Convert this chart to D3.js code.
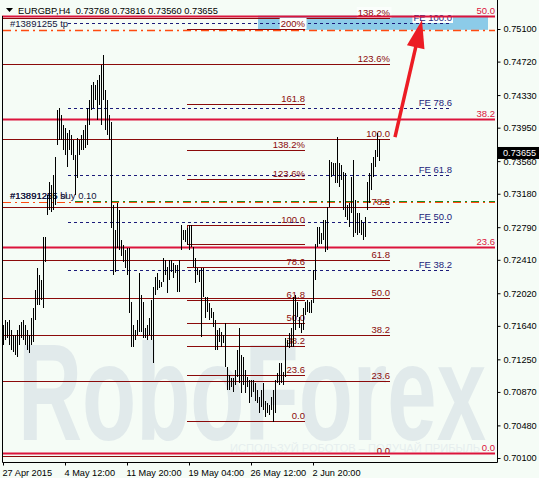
<!DOCTYPE html>
<html>
<head>
<meta charset="utf-8">
<script src="https://cdn.jsdelivr.net/npm/d3@7"></script>
<style>
body { margin: 0; background: #f5fcf6; }
svg text { font-family: "Liberation Sans", Arial, sans-serif; }
</style>
</head>
<body>
<div id="chart"></div>
<script>
// H4 bars, high / low
var barHigh = [
  .7165,.7171,.7168,.7171,.7159,.7153,.7153,.7159,.7165,.7168,.7171,.7165,.7159,.7153,.7173,
  .7185,.7206,.7231,.7223,.7217,.7267,.7267,.7316,.7332,.7328,.7340,.7361,
  .7416,.7418,.7410,.7398,.7395,.7389,.7392,.7386,.7381,.7363,.7383,.7381,.7386,
  .7392,.7398,.7418,.7427,.7445,.7448,.7445,.7451,.7456,.7468,.7480,.7439,.7427,.7410,
  .7402,.7305,.7276,.7307,.7299,.7264,.7258,.7252,.7255,.7255,
  .7192,.7165,.7159,.7171,.7226,.7200,.7192,.7161,.7165,.7173,.7194,.7209,
  .7221,.7226,.7217,.7215,.7243,.7241,.7233,.7241,.7241,.7237,.7235,.7235,.7241,
  .7281,.7276,.7276,.7278,.7281,.7281,.7256,.7243,.7231,.7229,.7231,.7231,
  .7198,.7198,.7191,.7185,.7180,.7171,.7159,.7161,.7157,.7153,.7167,
  .7116,.7107,.7103,.7103,.7112,.7136,.7161,.7130,.7128,.7112,.7104,
  .7101,.7101,.7101,.7097,.7089,.7081,.7089,.7097,.7077,.7074,.7072,.7081,.7089,.7101,
  .7109,.7121,.7121,.7110,.7150,.7147,.7156,.7161,
  .7198,.7200,.7192,.7174,.7167,.7185,.7192,.7194,.7192,.7194,.7229,.7260,
  .7279,.7279,.7272,.7287,.7287,.7302,.7357,.7355,.7354,.7354,.7384,.7354,.7351,
  .7343,.7342,.7305,.7307,.7337,.7357,.7311,.7295,.7295,.7287,.7284,.7291,
  .7332,.7342,.7354,.7361,.7369,.7389,.73816
];
var barLow = [
  .7142,.7147,.7150,.7142,.7136,.7133,.7130,.7128,.7142,.7150,.7147,.7142,.7136,.7132,.7142,
  .7145,.7171,.7188,.7188,.7194,.7185,.7238,.7293,.7299,.7297,.7299,.7305,
  .7375,.7381,.7381,.7369,.7363,.7349,.7369,.7363,.7357,.7316,.7336,.7363,.7369,
  .7369,.7371,.7375,.7398,.7416,.7418,.7427,.7404,.7421,.7398,.7427,.7392,.7386,.7381,
  .7278,.7223,.7227,.7255,.7252,.7246,.7238,.7231,.7223,.7179,
  .7139,.7139,.7147,.7153,.7157,.7157,.7150,.7150,.7147,.7153,.7147,.7121,
  .7200,.7206,.7208,.7209,.7215,.7223,.7202,.7217,.7227,.7220,.7226,.7203,.7203,
  .7252,.7264,.7262,.7258,.7252,.7256,.7233,.7214,.7223,.7215,.7151,.7198,
  .7173,.7180,.7171,.7173,.7163,.7136,.7136,.7145,.7139,.7144,.7116,
  .7089,.7089,.7093,.7087,.7095,.7104,.7097,.7086,.7095,.7086,.7093,
  .7074,.7081,.7087,.7077,.7074,.7062,.7069,.7066,.7058,.7062,.7060,.7066,.7052,.7062,
  .7097,.7095,.7097,.7095,.7104,.7139,.7138,.7139,
  .7139,.7159,.7174,.7161,.7156,.7159,.7177,.7180,.7179,.7179,.7191,.7217,
  .7256,.7260,.7260,.7264,.7250,.7252,.7302,.7337,.7340,.7330,.7330,.7326,.7334,
  .7299,.7291,.7287,.7279,.7295,.7267,.7272,.7270,.7272,.7270,.7264,.7267,
  .7299,.7307,.7322,.7337,.7349,.7361,.73560
];
var lastClose = 0.73655;
var headerText = "EURGBP,H4  0.73768 0.73816 0.73560 0.73655";

var priceTicks = [0.75100,0.74720,0.74330,0.73950,0.73560,0.73180,0.72790,
                  0.72410,0.72020,0.71640,0.71250,0.70870,0.70480,0.70100];
var dateLabels = ["27 Apr 2015","4 May 12:00","11 May 20:00","19 May 04:00","26 May 12:00","2 Jun 20:00"];
var dateIdx = [0, 31, 62, 93, 124, 155];

// big crimson retracement
var crimsonBase = 0.70156, crimsonRange = 0.10202;
var crimsonRatios = [0, 0.236, 0.382, 0.5];
var crimsonLabels = ["0.0", "23.6", "38.2", "50.0"];

// dark red retracement (long)
var fibABase = 0.7012, fibARange = 0.03696;
var fibARatios = [0, 0.236, 0.382, 0.5, 0.618, 0.786, 1, 1.236, 1.382];
var fibALabels = ["0.0","23.6","38.2","50.0","61.8","78.6","100.0","123.6%","138.2%"];

// dark red retracement (short)
var fibBBase = 0.7053, fibBRange = 0.02285;
var fibBRatios = [0, 0.236, 0.382, 0.5, 0.618, 0.786, 1, 1.236, 1.382, 1.618, 2];
var fibBLabels = ["0.0","23.6","38.2","50.0","61.8","78.6","100.0","123.6%","138.2%","161.8","200%"];

// fibo expansion (navy dashed)
var feBase = 0.7052, feRange = 0.0465;
var feRatios = [0.382, 0.5, 0.618, 0.786, 1];
var feLabels = ["FE 38.2","FE 50.0","FE 61.8","FE 78.6","FE 100.0"];

var tpPrice = 0.75090, slPrice = 0.73085;

var W = 539, H = 478;
var svg = d3.select("#chart").append("svg")
    .attr("width", W).attr("height", H)
    .style("background", "#f5fcf6");

var x = d3.scaleLinear().domain([0, 246]).range([3, 495]);
var y = d3.scaleLinear().domain([0.70100, 0.75100]).range([458, 29]);
var px = function (v) { return Math.round(v) + 0.5; };

// watermark
svg.append("text")
    .attr("x", 18).attr("y", 440)
    .attr("font-size", 138).attr("font-weight", "bold")
    .attr("textLength", 468).attr("lengthAdjust", "spacingAndGlyphs")
    .attr("fill", "#e1eaeb")
    .text("RoboForex");
svg.append("text")
    .attr("x", 230).attr("y", 452)
    .attr("font-size", 11)
    .attr("textLength", 250).attr("lengthAdjust", "spacingAndGlyphs")
    .attr("fill", "#e6eeee")
    .text("ИСПОЛЬЗУЙ РОБОТОВ – ПОЛУЧАЙ ПРИБЫЛЬ");

// blue rectangle
svg.append("rect")
    .attr("x", x(127.5)).attr("y", y(0.75255))
    .attr("width", x(242.5) - x(127.5)).attr("height", y(tpPrice) - y(0.75255))
    .attr("fill", "#8ccbe8");

function fibLines(base, range, ratios, labels, i0, i1, color, width, dash, bgLabels) {
    var g = svg.append("g");
    ratios.forEach(function (r, k) {
        var yy = px(y(base + r * range));
        g.append("line")
            .attr("x1", x(i0)).attr("x2", x(i1))
            .attr("y1", yy).attr("y2", yy)
            .attr("stroke", color).attr("stroke-width", width)
            .attr("stroke-dasharray", dash);
        var t = g.append("text")
            .attr("x", x(i1)).attr("y", yy - 2.5)
            .attr("text-anchor", "end")
            .attr("font-size", 9.5)
            .attr("fill", color)
            .text(labels[k]);
        if (bgLabels && bgLabels.indexOf(labels[k]) >= 0) {
            var bb = t.node().getBBox();
            g.insert("rect", function () { return t.node(); })
                .attr("x", bb.x - 1).attr("y", bb.y)
                .attr("width", bb.width + 2).attr("height", bb.height)
                .attr("fill", "#fbfefc");
        }
    });
    return g;
}

// order lines
svg.append("line")
    .attr("x1", 3).attr("x2", 495)
    .attr("y1", px(y(tpPrice))).attr("y2", px(y(tpPrice)))
    .attr("stroke", "#ff4a10").attr("stroke-width", 1.3)
    .attr("stroke-dasharray", "8,4,2,4");
svg.append("line")
    .attr("x1", x(36)).attr("x2", 495)
    .attr("y1", px(y(slPrice)) - 1).attr("y2", px(y(slPrice)) - 1)
    .attr("stroke", "#1e8a1e").attr("stroke-width", 1.2)
    .attr("stroke-dasharray", "8,4,2,4");
svg.append("line")
    .attr("x1", 3).attr("x2", 495)
    .attr("y1", px(y(slPrice))).attr("y2", px(y(slPrice)))
    .attr("stroke", "#ff4a10").attr("stroke-width", 1.2)
    .attr("stroke-dasharray", "8,4,2,4");

fibLines(feBase, feRange, feRatios, feLabels, 32.5, 224.5, "#1b1b7a", 1, "3,3", ["FE 100.0"]);
fibLines(fibABase, fibARange, fibARatios, fibALabels, -0.5, 193.5, "#8b0a0a", 1, null, ["138.2%"]);
fibLines(fibBBase, fibBRange, fibBRatios, fibBLabels, 92, 151, "#8b0a0a", 1, null, ["200%"]);
fibLines(crimsonBase, crimsonRange, crimsonRatios, crimsonLabels, -0.5, 246, "#dc143c", 2, null, []);

// bracket of the short retracement
var bTop = px(y(fibBBase + fibBRange)), bBot = px(y(0.72600));
svg.append("path")
    .attr("d", "M" + x(151) + "," + bBot + "H" + px(x(92)) + "V" + bTop)
    .attr("fill", "none").attr("stroke", "#8b0a0a");

// order labels (two labels drawn on top of each other, as in the terminal)
svg.append("text").attr("x", 10).attr("y", y(tpPrice) - 3)
    .attr("font-size", 9.5).attr("fill", "#14143c").text("#13891255 tp");
svg.append("text").attr("x", 10).attr("y", y(slPrice) - 3)
    .attr("font-size", 9.5).attr("fill", "#14143c").text("#13891255 buy 0.10");
svg.append("text").attr("x", 10).attr("y", y(slPrice) - 3)
    .attr("font-size", 9.5).attr("fill", "#14143c").text("#13891255 sl");

// bars
svg.append("g").selectAll("line")
    .data(barHigh)
    .enter().append("line")
    .attr("x1", function (d, i) { return px(x(i)); })
    .attr("x2", function (d, i) { return px(x(i)); })
    .attr("y1", function (d) { return y(d); })
    .attr("y2", function (d, i) { return y(barLow[i]); })
    .attr("stroke", "#000").attr("stroke-width", 1)
    .attr("shape-rendering", "crispEdges");

// red arrow
var a0 = [x(196), y(0.73841)], a1 = [x(209.5), y(0.75205)];
var dx = a1[0] - a0[0], dy = a1[1] - a0[1], len = Math.sqrt(dx * dx + dy * dy);
var ux = dx / len, uy = dy / len;
var bx = a1[0] - 28 * ux, by = a1[1] - 28 * uy;
svg.append("line")
    .attr("x1", a0[0]).attr("y1", a0[1])
    .attr("x2", a1[0] - 20 * ux).attr("y2", a1[1] - 20 * uy)
    .attr("stroke", "#ec1c24").attr("stroke-width", 3.5);
svg.append("path")
    .attr("d", "M" + a1[0] + "," + a1[1] +
        "L" + (bx - 9 * -uy) + "," + (by - 9 * ux) +
        "L" + (bx + 9 * -uy) + "," + (by + 9 * ux) + "Z")
    .attr("fill", "#ec1c24");

// frame
svg.append("path")
    .attr("d", "M2.5,16V462.5H497.5V0")
    .attr("fill", "none").attr("stroke", "#000");

// right axis
var yAxis = d3.axisRight(y).tickValues(priceTicks)
    .tickFormat(d3.format(".5f")).tickSize(3).tickPadding(3);
var ya = svg.append("g").attr("transform", "translate(497.5,0)").call(yAxis);
ya.select(".domain").remove();
ya.selectAll("text").attr("font-size", 9.2).attr("fill", "#000")
    .attr("font-family", "Liberation Sans, Arial, sans-serif");
ya.selectAll("line").attr("stroke", "#000");

// bottom axis
var xAxis = d3.axisBottom(x).tickValues(dateIdx)
    .tickFormat(function (d, i) { return dateLabels[i]; }).tickSize(3).tickPadding(4);
var xa = svg.append("g").attr("transform", "translate(0,462.5)").call(xAxis);
xa.select(".domain").remove();
xa.selectAll("text").attr("font-size", 9.2).attr("fill", "#000")
    .attr("text-anchor", "start").attr("dx", -1)
    .attr("font-family", "Liberation Sans, Arial, sans-serif");
xa.selectAll("line").attr("stroke", "#000");

// current price tag
var cy = y(lastClose);
svg.append("rect").attr("x", 498).attr("y", cy - 6).attr("width", 41).attr("height", 12).attr("fill", "#000");
svg.append("text").attr("x", 503).attr("y", cy + 3.5)
    .attr("font-size", 9.2).attr("fill", "#fff").text(d3.format(".5f")(lastClose));

// header
svg.append("path").attr("d", "M6,8H13L9.5,12Z").attr("fill", "#000");
svg.append("text").attr("x", 18).attr("y", 14)
    .attr("font-size", 9.3).attr("fill", "#000")
    .attr("xml:space", "preserve").style("white-space", "pre")
    .text(headerText);
</script>
</body>
</html>
